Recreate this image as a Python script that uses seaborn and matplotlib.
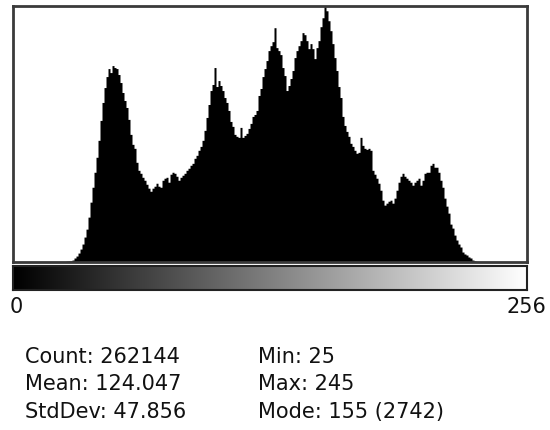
import numpy as np
import pandas as pd
import matplotlib
matplotlib.use("Agg")
import matplotlib.pyplot as plt
import seaborn as sns

# Data: pixel counts per grey level, bins 0..255
leading_zeros = [0] * 25
counts_25_99 = [
    5, 8, 10, 11, 21, 43, 64, 96, 139, 193, 268, 353, 482, 643, 803, 964, 1125, 1307, 1521, 1714,
    1874, 1992, 2078, 2035, 2110, 2089, 2078, 2014, 1928, 1821, 1735, 1660, 1532, 1371, 1264, 1221,
    1071, 985, 953, 910, 878, 835, 793, 760, 793, 814, 846, 814, 803, 878, 900, 910, 857, 943, 964,
    953, 921, 878, 910, 932, 953, 985, 1007, 1039, 1060, 1114, 1146, 1200, 1242, 1307, 1414, 1553,
    1692, 1842, 1907,
]
counts_100_179 = [
    2089, 1885, 1949, 1896, 1842, 1767, 1714, 1628, 1510, 1457, 1371, 1350, 1339, 1446, 1339, 1360,
    1382, 1435, 1489, 1564, 1585, 1628, 1789, 1864, 1992, 2078, 2164, 2271, 2324, 2367, 2517, 2303,
    2271, 2228, 2089, 2003, 1842, 1896, 1971, 2057, 2196, 2271, 2324, 2378, 2464, 2442, 2378, 2292,
    2346, 2292, 2185, 2303, 2378, 2528, 2624, 2742, 2699, 2592, 2485, 2346, 2196, 2057, 1885, 1767,
    1564, 1467, 1403, 1350, 1275, 1242, 1200, 1168, 1178, 1339, 1253, 1221, 1210, 1221, 1200, 985,
]
counts_180_245 = [
    943, 900, 846, 771, 664, 611, 632, 653, 664, 632, 686, 771, 857, 921, 953, 921, 900, 878, 857,
    825, 857, 878, 900, 825, 878, 953, 964, 964, 1039, 1060, 1018, 1018, 964, 878, 803, 686, 600,
    525, 407, 364, 289, 236, 193, 161, 107, 86, 75, 54, 43, 21, 11, 6, 5, 4, 3, 3, 2, 2, 2, 1, 1,
    1, 1, 1, 1, 1,
]
trailing_zeros = [0] * 10

counts = leading_zeros + counts_25_99 + counts_100_179 + counts_180_245 + trailing_zeros
levels = np.arange(256)

stats_left = ["Count: 262144", "Mean: 124.047", "StdDev: 47.856"]
stats_right = ["Min: 25", "Max: 245", "Mode: 155 (2742)"]
axis_labels = ["0", "256"]

df = pd.DataFrame({"level": levels, "count": counts})

W, H = 550, 430
fig = plt.figure(figsize=(W / 100, H / 100), dpi=100)
fig.patch.set_facecolor("white")

# histogram panel
ax = fig.add_axes([13 / W, 1 - 262 / H, 514 / W, 256 / H])
sns.histplot(data=df, x="level", weights="count", binwidth=1, binrange=(0, 256),
             element="step", fill=True, color="black", alpha=1, linewidth=0, ax=ax)
ax.set_xlim(-0.5, 256.5)
ax.set_ylim(0, max(counts) * 1.003)
ax.set_xticks([])
ax.set_yticks([])
ax.set_xlabel("")
ax.set_ylabel("")
for s in ax.spines.values():
    s.set_color("#3a3a3a")
    s.set_linewidth(2)

# grey-level ramp
bar = fig.add_axes([13 / W, 1 - 290 / H, 514 / W, 24 / H])
bar.imshow(levels[np.newaxis, :], cmap="gray", aspect="auto", vmin=0, vmax=255,
           extent=(0, 256, 0, 1))
bar.set_xticks([])
bar.set_yticks([])
for s in bar.spines.values():
    s.set_color("#222222")
    s.set_linewidth(1.5)

font = dict(family="DejaVu Sans", fontsize=15, color="#111111")
fig.text(10 / W, 1 - 313 / H, axis_labels[0], ha="left", va="baseline", **font)
fig.text(546 / W, 1 - 313 / H, axis_labels[1], ha="right", va="baseline", **font)

for i, (l, r) in enumerate(zip(stats_left, stats_right)):
    y = 1 - (363 + 27.5 * i) / H
    fig.text(25 / W, y, l, ha="left", va="baseline", **font)
    fig.text(258 / W, y, r, ha="left", va="baseline", **font)

fig.savefig("out.png", dpi=100, facecolor="white")
